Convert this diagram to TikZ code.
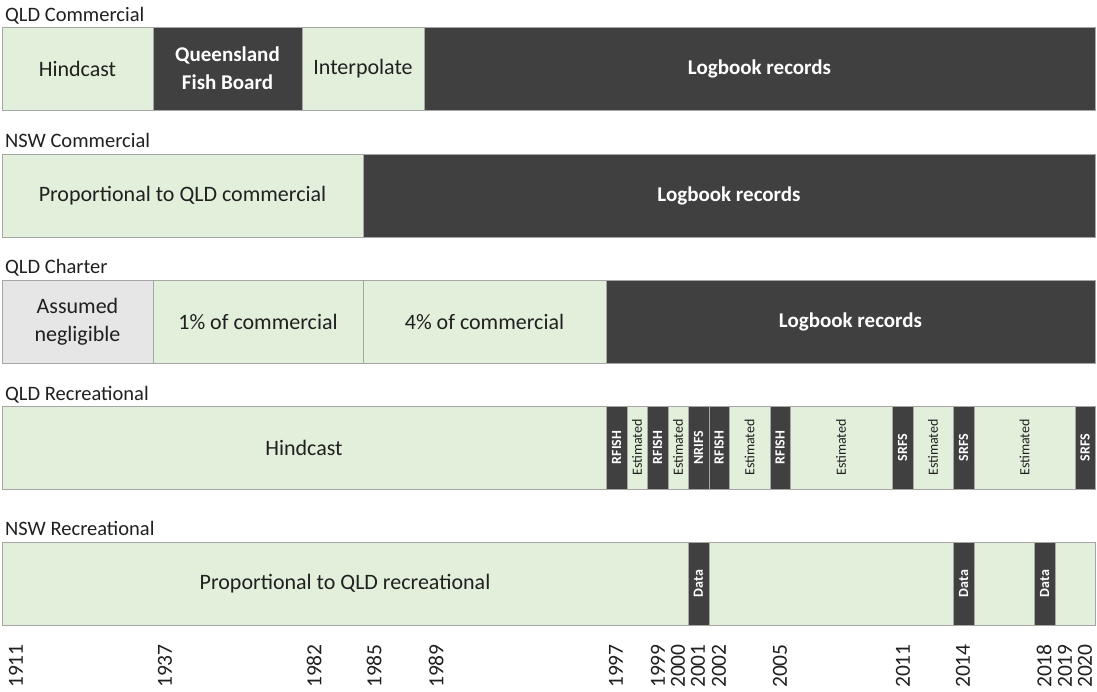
\documentclass[tikz,border=0pt]{standalone}
\usepackage{fontspec}
\setmainfont{Carlito}
\definecolor{lightcell}{HTML}{E2EFDA}
\definecolor{darkcell}{HTML}{404040}
\definecolor{greycell}{HTML}{E7E6E6}
\definecolor{cellline}{HTML}{A6A6A6}
\definecolor{celltext}{HTML}{202020}
\tikzset{
  cell/.style={draw=cellline, line width=1pt, anchor=north west, inner sep=0pt, outer sep=0pt,
    minimum height=83pt, align=center, text=celltext, font=\fontsize{22}{28}\selectfont},
  light/.style={cell, fill=lightcell},
  dark/.style={cell, fill=darkcell, text=white, font=\fontsize{21}{28}\selectfont\bfseries},
  grey/.style={cell, fill=greycell},
  rowtitle/.style={anchor=base west, inner sep=0pt, text=celltext, font=\fontsize{20.5}{24}\selectfont},
  yearlabel/.style={rotate=90, anchor=west, inner sep=0pt, text=celltext, font=\fontsize{21.5}{24}\selectfont},
  thinlight/.style={rotate=90, inner sep=0pt, text=celltext, font=\fontsize{14}{16}\selectfont},
  thindark/.style={rotate=90, inner sep=0pt, text=white, font=\fontsize{14}{16}\selectfont\bfseries}
}
% one cell of a row: style, name, left, right, top, text
\newcommand{\cellbox}[6]{\node[#1, minimum width={#4pt-#3pt}] (#2) at (#3,#5) {#6};}
\begin{document}
\begin{tikzpicture}[x=1pt, y=-1pt]
\useasboundingbox[fill=white] (0,0) rectangle (1097,691);

% QLD commercial
\node[rowtitle] (qctitle) at (5,21) {QLD Commercial};
\cellbox{light}{qc1}{2}{153}{27}{Hindcast}
\cellbox{dark}{qc2}{153}{302}{27}{Queensland\\Fish Board}
\cellbox{light}{qc3}{302}{424}{27}{Interpolate}
\cellbox{dark}{qc4}{424}{1095}{27}{Logbook records}

% NSW commercial
\node[rowtitle] (nctitle) at (5,147) {NSW Commercial};
\cellbox{light}{nc1}{2}{363}{154}{Proportional to QLD commercial}
\cellbox{dark}{nc2}{363}{1095}{154}{Logbook records}

% QLD charter
\node[rowtitle] (chtitle) at (5,273) {QLD Charter};
\cellbox{grey}{ch1}{2}{153}{280}{Assumed\\negligible}
\cellbox{light}{ch2}{153}{363}{280}{1\% of commercial}
\cellbox{light}{ch3}{363}{606}{280}{4\% of commercial}
\cellbox{dark}{ch4}{606}{1095}{280}{Logbook records}

% QLD recreational
\node[rowtitle] (qrtitle) at (5,400) {QLD Recreational};
\cellbox{light}{qr0}{2}{606}{406}{Hindcast}
\foreach \kind/\xa/\xb/\txt [count=\i] in {
    dark/606/627/RFISH, light/627/647/Estimated, dark/647/668/RFISH,
    light/668/688/Estimated, dark/688/709/NRIFS, dark/709/729/RFISH,
    light/729/770/Estimated, dark/770/790/RFISH, light/790/892/Estimated,
    dark/892/913/SRFS, light/913/953/Estimated, dark/953/974/SRFS,
    light/974/1075/Estimated, dark/1075/1095/SRFS}{
  \cellbox{\kind}{qr\i}{\xa}{\xb}{406}{}
  \node[thin\kind] (qr\i t) at (qr\i.center) {\txt};
}

% NSW recreational
\node[rowtitle] (nrtitle) at (5,535) {NSW Recreational};
\cellbox{light}{nr0}{2}{688}{542}{Proportional to QLD recreational}
\foreach \kind/\xa/\xb/\txt [count=\i] in {
    dark/688/709/Data, light/709/953/, dark/953/974/Data,
    light/974/1034/, dark/1034/1055/Data, light/1055/1095/}{
  \cellbox{\kind}{nr\i}{\xa}{\xb}{542}{}
  \node[thin\kind] (nr\i t) at (nr\i.center) {\txt};
}

% years along the bottom
\foreach \yr/\xx in {1911/16, 1937/165, 1982/314, 1985/374, 1989/436,
    1997/616, 1999/658, 2000/678, 2001/698, 2002/719, 2005/780,
    2011/903, 2014/963, 2018/1044, 2019/1065, 2020/1085}
  \node[yearlabel] (y\yr) at (\xx,688) {\yr};
\end{tikzpicture}
\end{document}
